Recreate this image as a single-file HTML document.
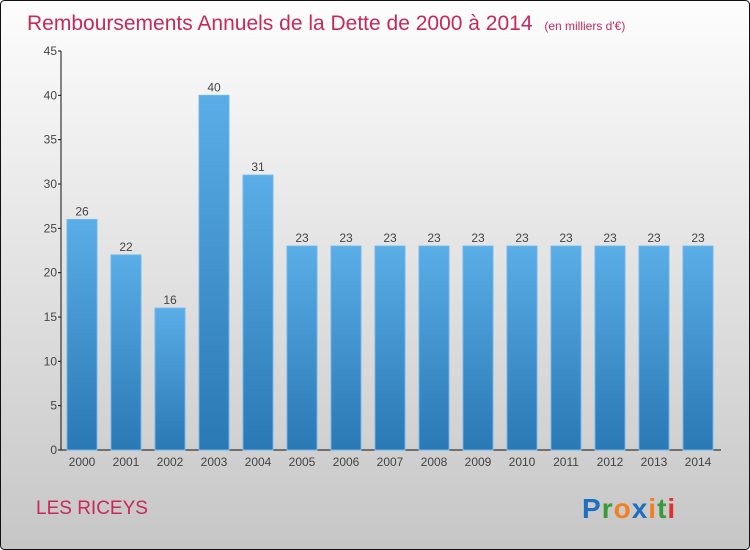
<!DOCTYPE html>
<html><head><meta charset="utf-8"><style>
body{margin:0;}
#c{width:750px;height:550px;position:relative;overflow:hidden;}
</style></head><body>
<div id="c">
<svg width="750" height="550" xmlns="http://www.w3.org/2000/svg">
<defs>
<linearGradient id="bg" x1="0" y1="0" x2="0" y2="1"><stop offset="0" stop-color="#fdfdfd"/><stop offset="1" stop-color="#c6c6c6"/></linearGradient>
<linearGradient id="bar" x1="0" y1="0" x2="0" y2="1"><stop offset="0" stop-color="#5aade6"/><stop offset="1" stop-color="#2a78b4"/></linearGradient>
</defs>
<rect x="0.5" y="0.5" width="749" height="549" rx="4" fill="url(#bg)" stroke="#111"/>
<text x="27" y="30" font-family="Liberation Sans, sans-serif" font-size="21" fill="#c8285a">Remboursements Annuels de la Dette de 2000 à 2014 <tspan font-size="12" dx="6">(en milliers d'€)</tspan></text>
<g id="yax"></g><g id="bars"></g>
<text x="36" y="514" font-family="Liberation Sans, sans-serif" font-size="19" fill="#c8285a">LES RICEYS</text>
<text x="582" y="518" font-family="Liberation Sans, sans-serif" font-size="28" font-weight="bold" letter-spacing="1"><tspan fill="#1f6fc0">P</tspan><tspan fill="#3a9a3a">r</tspan><tspan fill="#f08020">o</tspan><tspan fill="#1f6fc0">x</tspan><tspan fill="#f08020">i</tspan><tspan fill="#3a9a3a">t</tspan><tspan fill="#e03030">i</tspan></text>
</svg>
</div>
<script>
const years=["2000","2001","2002","2003","2004","2005","2006","2007","2008","2009","2010","2011","2012","2013","2014"];
const values=[26,22,16,40,31,23,23,23,23,23,23,23,23,23,23];
const yTicks=[0,5,10,15,20,25,30,35,40,45];
const NS="http://www.w3.org/2000/svg";
const y0=450,y45=51,x0=61,x1=721;
const ys=v=>y0-(v/45)*(y0-y45);
const xs=i=>82+i*44;
function mk(t,a,p){const e=document.createElementNS(NS,t);for(const k in a)e.setAttribute(k,a[k]);p.appendChild(e);return e;}
const ax=document.getElementById('yax'),bg=document.getElementById('bars');
let l=mk('line',{x1:x0,y1:y45,x2:x0,y2:y0,stroke:'#111'},ax);


l=mk('line',{x1:x0,y1:y0,x2:x1,y2:y0,stroke:'#111'},ax);


yTicks.forEach(v=>{
 const t=mk('line',{x1:x0-3,x2:x0,y1:ys(v),y2:ys(v),stroke:'#111'},ax);
 
 
 const tx=mk('text',{x:x0-4,y:ys(v)+4,'text-anchor':'end','font-family':'Liberation Sans, sans-serif','font-size':'12',fill:'#444'},ax);
 tx.textContent=v;
 
 
});
years.forEach((yr,i)=>{
 const v=values[i];
 const r=mk('rect',{x:xs(i)-15,y:ys(v),width:30,height:y0-ys(v),fill:'url(#bar)',stroke:'#6cb8ec','stroke-width':'1'},bg);
 
 
 const lb=mk('text',{x:xs(i),y:ys(v)-4,'text-anchor':'middle','font-family':'Liberation Sans, sans-serif','font-size':'12',fill:'#444'},bg);
 lb.textContent=v;
 
 
 const xl=mk('text',{x:xs(i),y:466,'text-anchor':'middle','font-family':'Liberation Sans, sans-serif','font-size':'12',fill:'#444'},bg);
 xl.textContent=yr;
 
 
});
</script>
</body></html>
